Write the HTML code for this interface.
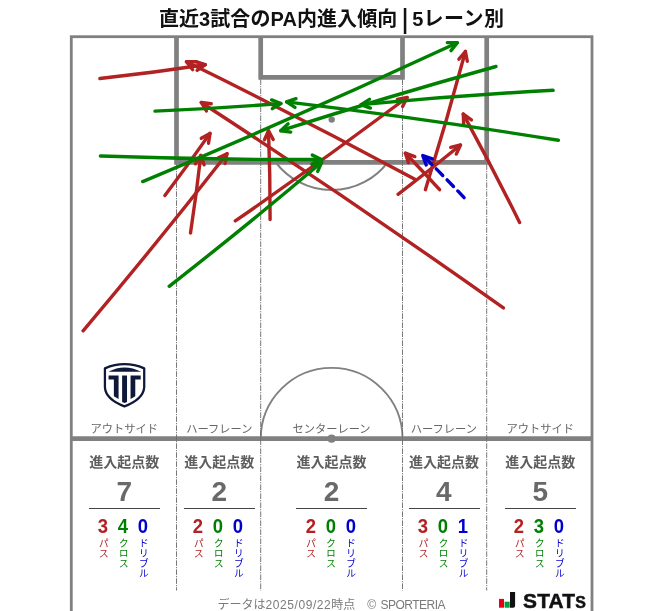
<!DOCTYPE html>
<html lang="ja"><head><meta charset="utf-8"><title>直近3試合のPA内進入傾向 | 5レーン別</title>
<style>
html,body{margin:0;padding:0;background:#fff}
body{width:663px;height:611px;position:relative;overflow:hidden;font-family:"Liberation Sans","Noto Sans CJK JP",sans-serif}
.title{position:absolute;left:0;width:663px;top:4.5px;text-align:center;font-size:20px;font-weight:bold;color:#111;line-height:28px;white-space:nowrap;letter-spacing:0.08px}
.lane{position:absolute;width:100px;text-align:center;top:421px;font-size:11.25px;line-height:16px;color:#666;white-space:nowrap}
.hd{position:absolute;width:100px;text-align:center;top:451px;font-size:14px;line-height:22px;font-weight:bold;color:#5e5e5e;white-space:nowrap}
.big{position:absolute;width:100px;text-align:center;top:475.8px;font-size:28px;line-height:32px;font-weight:bold;color:#696969}
.rule{position:absolute;top:507.6px;width:71.2px;height:1px;background:#444}
.num{position:absolute;width:30px;text-align:center;top:515.0px;font-size:20.5px;line-height:22px;font-weight:bold;transform:scaleX(0.9)}
.vt{position:absolute;width:12px;top:538px;font-size:10px;line-height:9.6px;writing-mode:vertical-rl;text-orientation:upright;letter-spacing:0px;white-space:nowrap}
.foot{position:absolute;left:217.5px;top:596.7px;font-size:12px;line-height:16px;color:#7a7a7a;white-space:pre}
.stats{position:absolute;left:522.6px;top:588.7px;font-size:21px;line-height:24px;font-weight:bold;color:#111;transform-origin:0 0;transform:scaleX(0.995);white-space:nowrap;letter-spacing:0.2px;-webkit-text-stroke:0.5px #111}
.stats span{font-size:22.9px;font-variant:small-caps;line-height:0}
</style></head><body>
<div class="title">直近3試合のPA内進入傾向<span style="letter-spacing:-0.6px"> <span style="display:inline-block;transform:translateY(-0.5px) scaleY(1.35)">|</span> </span>5<span style="letter-spacing:0.5px">レーン</span>別</div>
<svg width="663" height="611" viewBox="0 0 663 611" style="position:absolute;left:0;top:0"><rect x="71.3" y="36.7" width="520.7" height="584.3" fill="none" stroke="#808080" stroke-width="2.8"/><path d="M176.5 36.7 V162.3 H486.7 V36.7" fill="none" stroke="#808080" stroke-width="4.7" stroke-linejoin="miter"/><path d="M260.7 36.7 V77.4 H402.5 V36.7" fill="none" stroke="#808080" stroke-width="4.7" stroke-linejoin="miter"/><circle cx="331.7" cy="119.6" r="3.2" fill="#808080"/><path d="M275.7 162.3 A70.4 70.4 0 0 0 387.7 162.3" fill="none" stroke="#808080" stroke-width="2.1"/><path d="M260.75 438.7 A70.90 70.90 0 0 1 402.55 438.7" fill="none" stroke="#808080" stroke-width="1.9"/><line x1="71.3" y1="438.7" x2="592.0" y2="438.7" stroke="#808080" stroke-width="4.8"/><circle cx="331.6" cy="438.7" r="4.1" fill="#808080"/><line x1="176.5" y1="164.3" x2="176.5" y2="590.5" stroke="#6a6a6a" stroke-width="0.9" stroke-dasharray="5.6 1.1 1.2 1.1"/><line x1="486.7" y1="164.3" x2="486.7" y2="590.5" stroke="#6a6a6a" stroke-width="0.9" stroke-dasharray="5.6 1.1 1.2 1.1"/><line x1="260.7" y1="79.4" x2="260.7" y2="590.5" stroke="#6a6a6a" stroke-width="0.9" stroke-dasharray="5.6 1.1 1.2 1.1"/><line x1="402.5" y1="79.4" x2="402.5" y2="590.5" stroke="#6a6a6a" stroke-width="0.9" stroke-dasharray="5.6 1.1 1.2 1.1"/><path d="M99.9 78.5 Q152.7 72.7 205.3 64.7" fill="none" stroke="#b22222" stroke-width="3.4" stroke-linecap="round"/>
<polyline points="197.1,70.4 205.3,64.7 195.8,61.7" fill="none" stroke="#b22222" stroke-width="3.4" stroke-linecap="round" stroke-linejoin="round"/><path d="M414.4 178.9 Q301.6 118.1 186.5 61.8" fill="none" stroke="#b22222" stroke-width="3.4" stroke-linecap="round"/>
<polyline points="196.5,61.8 186.5,61.8 192.7,69.7" fill="none" stroke="#b22222" stroke-width="3.4" stroke-linecap="round" stroke-linejoin="round"/><path d="M503.4 307.9 Q354.4 202.2 201.3 102.5" fill="none" stroke="#b22222" stroke-width="3.4" stroke-linecap="round"/>
<polyline points="211.2,103.7 201.3,102.5 206.4,111.0" fill="none" stroke="#b22222" stroke-width="3.4" stroke-linecap="round" stroke-linejoin="round"/><path d="M83.1 330.8 Q156.8 243.7 227.0 153.7" fill="none" stroke="#b22222" stroke-width="3.4" stroke-linecap="round"/>
<polyline points="225.0,163.5 227.0,153.7 218.0,158.1" fill="none" stroke="#b22222" stroke-width="3.4" stroke-linecap="round" stroke-linejoin="round"/><path d="M164.9 195.6 Q188.1 164.9 210.0 133.4" fill="none" stroke="#b22222" stroke-width="3.4" stroke-linecap="round"/>
<polyline points="208.5,143.3 210.0,133.4 201.3,138.3" fill="none" stroke="#b22222" stroke-width="3.4" stroke-linecap="round" stroke-linejoin="round"/><path d="M190.5 233.0 Q196.4 194.3 200.8 155.4" fill="none" stroke="#b22222" stroke-width="3.4" stroke-linecap="round"/>
<polyline points="204.1,164.8 200.8,155.4 195.4,163.8" fill="none" stroke="#b22222" stroke-width="3.4" stroke-linecap="round" stroke-linejoin="round"/><path d="M270.1 219.5 Q270.2 175.1 268.5 130.7" fill="none" stroke="#b22222" stroke-width="3.4" stroke-linecap="round"/>
<polyline points="273.2,139.5 268.5,130.7 264.5,139.8" fill="none" stroke="#b22222" stroke-width="3.4" stroke-linecap="round" stroke-linejoin="round"/><path d="M235.3 220.9 Q322.4 160.9 407.1 97.5" fill="none" stroke="#b22222" stroke-width="3.4" stroke-linecap="round"/>
<polyline points="402.6,106.4 407.1,97.5 397.3,99.4" fill="none" stroke="#b22222" stroke-width="3.4" stroke-linecap="round" stroke-linejoin="round"/><path d="M425.4 189.7 Q446.8 121.0 465.4 51.5" fill="none" stroke="#b22222" stroke-width="3.4" stroke-linecap="round"/>
<polyline points="467.3,61.3 465.4,51.5 458.9,59.1" fill="none" stroke="#b22222" stroke-width="3.4" stroke-linecap="round" stroke-linejoin="round"/><path d="M398.0 194.3 Q429.7 170.3 460.5 145.0" fill="none" stroke="#b22222" stroke-width="3.4" stroke-linecap="round"/>
<polyline points="456.3,154.1 460.5,145.0 450.7,147.3" fill="none" stroke="#b22222" stroke-width="3.4" stroke-linecap="round" stroke-linejoin="round"/><path d="M439.6 189.7 Q422.8 171.1 405.4 153.2" fill="none" stroke="#b22222" stroke-width="3.4" stroke-linecap="round"/>
<polyline points="414.8,156.6 405.4,153.2 408.5,162.7" fill="none" stroke="#b22222" stroke-width="3.4" stroke-linecap="round" stroke-linejoin="round"/><path d="M519.6 222.5 Q492.5 167.7 463.3 114.1" fill="none" stroke="#b22222" stroke-width="3.4" stroke-linecap="round"/>
<polyline points="471.4,119.9 463.3,114.1 463.7,124.1" fill="none" stroke="#b22222" stroke-width="3.4" stroke-linecap="round" stroke-linejoin="round"/><path d="M100.4 156.0 Q210.8 159.9 321.3 159.5" fill="none" stroke="#008000" stroke-width="3.4" stroke-linecap="round"/>
<polyline points="312.3,163.9 321.3,159.5 312.3,155.1" fill="none" stroke="#008000" stroke-width="3.4" stroke-linecap="round" stroke-linejoin="round"/><path d="M155.0 111.1 Q218.0 108.6 280.9 103.5" fill="none" stroke="#008000" stroke-width="3.4" stroke-linecap="round"/>
<polyline points="272.3,108.6 280.9,103.5 271.6,99.9" fill="none" stroke="#008000" stroke-width="3.4" stroke-linecap="round" stroke-linejoin="round"/><path d="M142.7 181.6 Q301.4 115.3 457.3 42.8" fill="none" stroke="#008000" stroke-width="3.4" stroke-linecap="round"/>
<polyline points="451.0,50.6 457.3,42.8 447.3,42.6" fill="none" stroke="#008000" stroke-width="3.4" stroke-linecap="round" stroke-linejoin="round"/><path d="M169.2 286.3 Q246.7 225.8 321.7 162.3" fill="none" stroke="#008000" stroke-width="3.4" stroke-linecap="round"/>
<polyline points="317.7,171.4 321.7,162.3 312.0,164.7" fill="none" stroke="#008000" stroke-width="3.4" stroke-linecap="round" stroke-linejoin="round"/><path d="M496.0 66.5 Q387.8 96.5 280.8 130.7" fill="none" stroke="#008000" stroke-width="3.4" stroke-linecap="round"/>
<polyline points="288.1,123.8 280.8,130.7 290.7,132.1" fill="none" stroke="#008000" stroke-width="3.4" stroke-linecap="round" stroke-linejoin="round"/><path d="M553.1 90.3 Q456.9 95.5 361.0 104.6" fill="none" stroke="#008000" stroke-width="3.4" stroke-linecap="round"/>
<polyline points="369.5,99.4 361.0,104.6 370.4,108.1" fill="none" stroke="#008000" stroke-width="3.4" stroke-linecap="round" stroke-linejoin="round"/><path d="M558.4 140.3 Q422.9 118.4 286.6 101.9" fill="none" stroke="#008000" stroke-width="3.4" stroke-linecap="round"/>
<polyline points="296.0,98.7 286.6,101.9 295.0,107.4" fill="none" stroke="#008000" stroke-width="3.4" stroke-linecap="round" stroke-linejoin="round"/><path d="M464.1 197.6 Q443.9 176.2 422.8 155.6" fill="none" stroke="#0000cd" stroke-width="3.4" stroke-linecap="round" stroke-dasharray="9.2 6.2"/>
<polyline points="432.3,158.8 422.8,155.6 426.2,165.0" fill="none" stroke="#0000cd" stroke-width="3.4" stroke-linecap="round" stroke-linejoin="round"/><g transform="translate(95,355) scale(0.09823)">
<path d="M101 136 Q300 52 501 136 V330 Q490 452 300 523 Q110 452 101 330 Z" fill="#fff" stroke="#0e1838" stroke-width="23" stroke-linejoin="round"/>
<path d="M136 170 Q300 84 469 170 Z" fill="#0e1838"/>
<path d="M138 208 H240 V447 L192 420 V250 H138 Z" fill="#0e1838"/>
<path d="M276 208 H326 V478 L301 488 L276 478 Z" fill="#0e1838"/>
<path d="M465 208 H362 V447 L410 420 V250 H465 Z" fill="#0e1838"/>
</g><g>
<rect x="499" y="598.9" width="5" height="8.8" fill="#e60012"/>
<rect x="504.6" y="601.7" width="5.1" height="6" fill="#00a040"/>
<path d="M510 591.9 H515.1 V605.7 Q515.1 607.7 513.1 607.7 H510 Z" fill="#111"/>
</g></svg>
<div class="lane" style="left:74.2px">アウトサイド</div><div class="hd" style="left:74.2px">進入起点数</div><div class="big" style="left:74.2px">7</div><div class="rule" style="left:88.9px"></div><div class="num" style="left:88.2px;color:#b22222">3</div><div class="vt" style="left:95.2px;color:#b22222">パス</div><div class="num" style="left:108.2px;color:#008000">4</div><div class="vt" style="left:115.2px;color:#008000">クロス</div><div class="num" style="left:128.2px;color:#0000cd">0</div><div class="vt" style="left:135.2px;color:#0000cd">ドリブル</div><div class="lane" style="left:169.3px">ハーフレーン</div><div class="hd" style="left:169.3px">進入起点数</div><div class="big" style="left:169.3px">2</div><div class="rule" style="left:184.0px"></div><div class="num" style="left:183.3px;color:#b22222">2</div><div class="vt" style="left:190.3px;color:#b22222">パス</div><div class="num" style="left:203.3px;color:#008000">0</div><div class="vt" style="left:210.3px;color:#008000">クロス</div><div class="num" style="left:223.3px;color:#0000cd">0</div><div class="vt" style="left:230.3px;color:#0000cd">ドリブル</div><div class="lane" style="left:281.5px">センターレーン</div><div class="hd" style="left:281.5px">進入起点数</div><div class="big" style="left:281.5px">2</div><div class="rule" style="left:296.2px"></div><div class="num" style="left:295.5px;color:#b22222">2</div><div class="vt" style="left:302.5px;color:#b22222">パス</div><div class="num" style="left:315.5px;color:#008000">0</div><div class="vt" style="left:322.5px;color:#008000">クロス</div><div class="num" style="left:335.5px;color:#0000cd">0</div><div class="vt" style="left:342.5px;color:#0000cd">ドリブル</div><div class="lane" style="left:393.9px">ハーフレーン</div><div class="hd" style="left:393.9px">進入起点数</div><div class="big" style="left:393.9px">4</div><div class="rule" style="left:408.6px"></div><div class="num" style="left:407.9px;color:#b22222">3</div><div class="vt" style="left:414.9px;color:#b22222">パス</div><div class="num" style="left:427.9px;color:#008000">0</div><div class="vt" style="left:434.9px;color:#008000">クロス</div><div class="num" style="left:447.9px;color:#0000cd">1</div><div class="vt" style="left:454.9px;color:#0000cd">ドリブル</div><div class="lane" style="left:490.2px">アウトサイド</div><div class="hd" style="left:490.2px">進入起点数</div><div class="big" style="left:490.2px">5</div><div class="rule" style="left:504.9px"></div><div class="num" style="left:504.2px;color:#b22222">2</div><div class="vt" style="left:511.2px;color:#b22222">パス</div><div class="num" style="left:524.2px;color:#008000">3</div><div class="vt" style="left:531.2px;color:#008000">クロス</div><div class="num" style="left:544.2px;color:#0000cd">0</div><div class="vt" style="left:551.2px;color:#0000cd">ドリブル</div>
<div class="foot">データは<span style="letter-spacing:0.57px">2025/09/22</span>時点　<span style="letter-spacing:0.5px">© </span><span style="letter-spacing:-0.5px">SPORTERIA</span></div>
<div class="stats">STAT<span>s</span></div>
</body></html>
